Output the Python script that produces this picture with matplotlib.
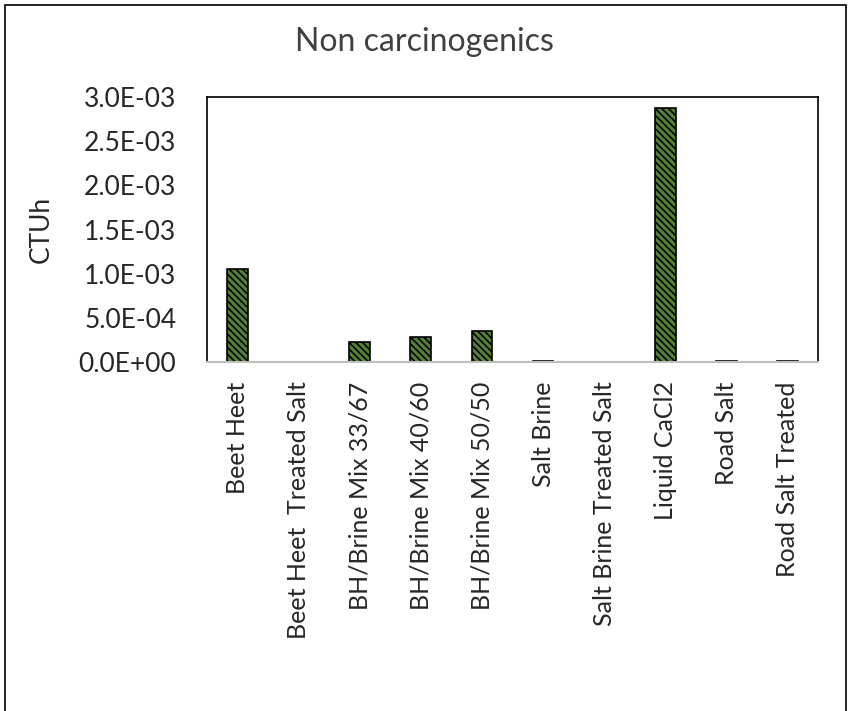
import matplotlib.pyplot as plt
from matplotlib.patches import Rectangle
from matplotlib.ticker import FuncFormatter

categories = ["Beet Heet", "Beet Heet  Treated Salt", "BH/Brine Mix 33/67",
              "BH/Brine Mix 40/60", "BH/Brine Mix 50/50", "Salt Brine",
              "Salt Brine Treated Salt", "Liquid CaCl2", "Road Salt",
              "Road Salt Treated"]
values = [1.05e-3, 4e-6, 2.3e-4, 2.8e-4, 3.5e-4, 6e-6, 5e-6, 2.87e-3, 6e-6, 6e-6]

plt.rcParams['font.family'] = ['Lato', 'DejaVu Sans']
plt.rcParams['hatch.linewidth'] = 1.2

fig = plt.figure(figsize=(8.49, 7.11), dpi=100)
ax = fig.add_axes([207/849, 1 - 362/711, 611/849, 265/711])

x = range(len(categories))
ax.bar(x, values, width=0.34, color='#548235', edgecolor='black',
       linewidth=1.2, hatch='\\\\\\\\\\')

ax.set_xlim(-0.5, len(categories) - 0.5)
ax.set_ylim(0, 3e-3)
ax.set_yticks([i * 5e-4 for i in range(7)])
ax.yaxis.set_major_formatter(FuncFormatter(lambda v, p: f"{v:.1E}"))
ax.set_xticks(list(x))
ax.set_xticklabels(categories, rotation=90, fontsize=18, color='#262626')
ax.tick_params(axis='y', labelsize=19, length=0, pad=22, labelcolor='#262626')
ax.tick_params(axis='x', length=0, pad=14)
for s in ['top', 'right', 'left']:
    ax.spines[s].set_color('black')
    ax.spines[s].set_linewidth(1.2)
ax.spines['bottom'].set_color('#bfbfbf')
ax.spines['bottom'].set_linewidth(1.5)

ax.set_ylabel("CTUh", fontsize=19, labelpad=18, color='#262626')
fig.text(0.5, 1 - 42/711, "Non carcinogenics", ha='center', va='center',
         fontsize=23, color='#404040')

fig.add_artist(Rectangle((5/849, -0.05), 841/849, 1.05 - 5/711,
                         transform=fig.transFigure, fill=False,
                         edgecolor='black', linewidth=1.2))

fig.savefig("out.png", dpi=100)
